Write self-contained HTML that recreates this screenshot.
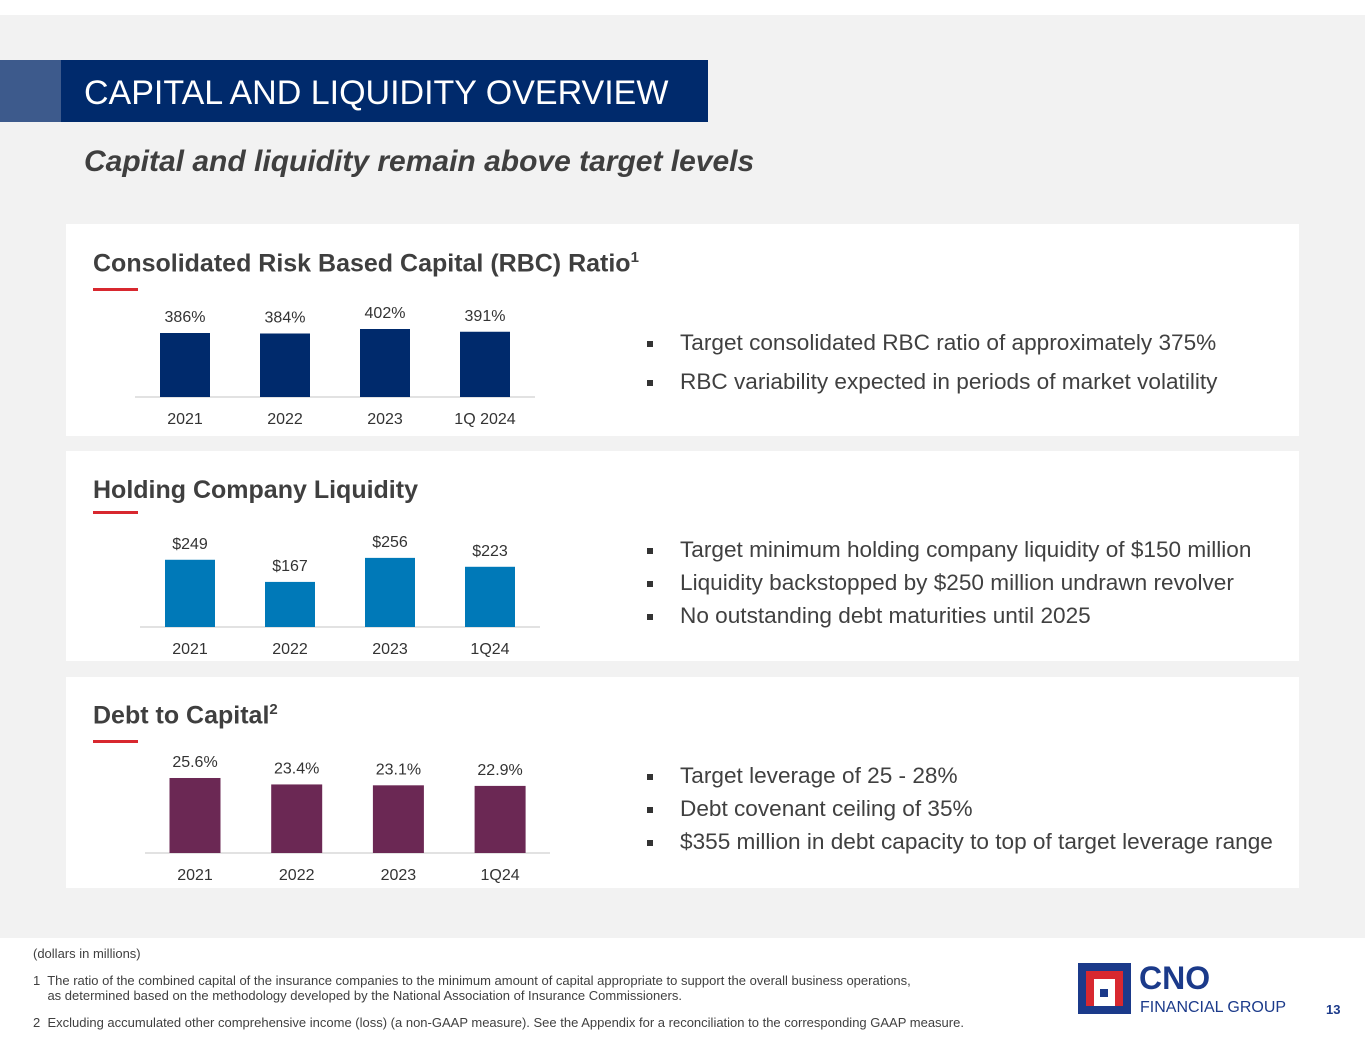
<!DOCTYPE html>
<html><head><meta charset="utf-8"><style>
body{margin:0;width:1365px;height:1055px;position:relative;background:#fff;font-family:"Liberation Sans",sans-serif;overflow:hidden}
.abs{position:absolute}
.panel{position:absolute;left:66px;width:1233px;background:#fff}
.ptitle{position:absolute;left:27px;font-size:25px;font-weight:bold;color:#3f3f3f;white-space:nowrap}
.ptitle sup{font-size:15px}
.red{position:absolute;left:27px;width:45px;height:3px;background:#d8282f}
.bul{position:absolute;left:581px;font-size:22.6px;color:#404040;white-space:nowrap}
.bul span.sq{display:inline-block;width:6px;height:6px;background:#333;margin-right:27px;vertical-align:middle}
svg text{font-family:"Liberation Sans",sans-serif;font-size:16px;fill:#333}
</style></head><body>
<div class="abs" style="left:0;top:15px;width:1365px;height:923px;background:#f2f2f2"></div>
<div class="abs" style="left:0;top:60px;width:61px;height:62px;background:#3d5a8c"></div>
<div class="abs" style="left:61px;top:60px;width:647px;height:62px;background:#002a6c;color:#fff;font-size:34px;line-height:66px;padding-left:23px;box-sizing:border-box;white-space:nowrap">CAPITAL AND LIQUIDITY OVERVIEW</div>
<div class="abs" style="left:84px;top:145px;font-size:30px;font-weight:bold;font-style:italic;color:#3f3f3f;white-space:nowrap">Capital and liquidity remain above target levels</div>

<div class="panel" style="top:224px;height:212px">
<div class="ptitle" style="top:25px">Consolidated Risk Based Capital (RBC) Ratio<sup>1</sup></div>
<div class="red" style="top:64px"></div>
<div class="bul" style="top:106px"><span class="sq"></span>Target consolidated RBC ratio of approximately 375%</div>
<div class="bul" style="top:145px"><span class="sq"></span>RBC variability expected in periods of market volatility</div>
</div>
<div class="panel" style="top:451px;height:210px">
<div class="ptitle" style="top:25px">Holding Company Liquidity</div>
<div class="red" style="top:60px"></div>
<div class="bul" style="top:86px"><span class="sq"></span>Target minimum holding company liquidity of $150 million</div>
<div class="bul" style="top:119px"><span class="sq"></span>Liquidity backstopped by $250 million undrawn revolver</div>
<div class="bul" style="top:152px"><span class="sq"></span>No outstanding debt maturities until 2025</div>
</div>
<div class="panel" style="top:677px;height:211px">
<div class="ptitle" style="top:24px">Debt to Capital<sup>2</sup></div>
<div class="red" style="top:63px"></div>
<div class="bul" style="top:86px"><span class="sq"></span>Target leverage of 25 - 28%</div>
<div class="bul" style="top:119px"><span class="sq"></span>Debt covenant ceiling of 35%</div>
<div class="bul" style="top:152px"><span class="sq"></span>$355 million in debt capacity to top of target leverage range</div>
</div>

<svg id="charts" class="abs" style="left:0;top:0" width="1365" height="1055"></svg>

<div class="abs" style="left:33px;top:946px;font-size:13px;color:#404040;line-height:15px;white-space:nowrap">
<div>(dollars in millions)</div>
<div style="margin-top:12px">1&nbsp; The ratio of the combined capital of the insurance companies to the minimum amount of capital appropriate to support the overall business operations,<br>&nbsp;&nbsp;&nbsp;&nbsp;as determined based on the methodology developed by the National Association of Insurance Commissioners.</div>
<div style="margin-top:12px">2&nbsp; Excluding accumulated other comprehensive income (loss) (a non-GAAP measure). See the Appendix for a reconciliation to the corresponding GAAP measure.</div>
</div>
<div class="abs" style="left:1078px;top:963px;width:53px;height:51px;background:#1b3a8a">
<div class="abs" style="left:8px;top:8px;width:37px;height:35px;background:#d8282f"></div>
<div class="abs" style="left:16px;top:16px;width:21px;height:27px;background:#fff"></div>
<div class="abs" style="left:22px;top:26px;width:8px;height:8px;background:#1b3a8a"></div>
</div>
<div class="abs" style="left:1139px;top:960px;font-size:32px;font-weight:bold;color:#1b3a8a">CNO</div>
<div class="abs" style="left:1140px;top:999px;font-size:16px;color:#1b3a8a">FINANCIAL GROUP</div>
<div class="abs" style="left:1326px;top:1002px;font-size:13px;font-weight:bold;color:#1b3a8a">13</div>

<script>
const rbcCats=["2021","2022","2023","1Q 2024"];
const rbcVals=[386,384,402,391];
const liqCats=["2021","2022","2023","1Q24"];
const liqVals=[249,167,256,223];
const debtCats=["2021","2022","2023","1Q24"];
const debtVals=[25.6,23.4,23.1,22.9];
const NS="http://www.w3.org/2000/svg";
const svg=document.getElementById('charts');
function mk(t,a){const e=document.createElementNS(NS,t);for(const k in a)e.setAttribute(k,a[k]);svg.appendChild(e);return e;}
function chart(id,cats,vals,fmt,o){
  const y=v=>o.base-(v-o.v0)*o.k;
  const ax=mk('line',{x1:o.x0,x2:o.x1,y1:o.base,y2:o.base,stroke:'#d9d9d9','stroke-width':1.5});
  
  
  cats.forEach((c,i)=>{
    const cx=o.c0+i*o.step, top=y(vals[i]);
    const r=mk('rect',{x:cx-o.w/2,y:top,width:o.w,height:o.base-top,fill:o.col});
    
    
    const t=mk('text',{x:cx,y:top-11,'text-anchor':'middle'});t.textContent=fmt(vals[i]);
    
    
    const l=mk('text',{x:cx,y:o.base+27,'text-anchor':'middle'});l.textContent=c;
    
    
  });
}
chart('rbc',rbcCats,rbcVals,v=>v+'%',{base:397,v0:130,k:0.25,x0:135,x1:535,c0:185,step:100,w:50,col:'#002a6c'});
chart('liquidity',liqCats,liqVals,v=>'$'+v,{base:627,v0:0,k:0.27,x0:140,x1:540,c0:190,step:100,w:50,col:'#0079b8'});
chart('debt',debtCats,debtVals,v=>v.toFixed(1)+'%',{base:853,v0:0,k:2.93,x0:145,x1:550,c0:195,step:101.7,w:51,col:'#6b2854'});
</script>
</body></html>
